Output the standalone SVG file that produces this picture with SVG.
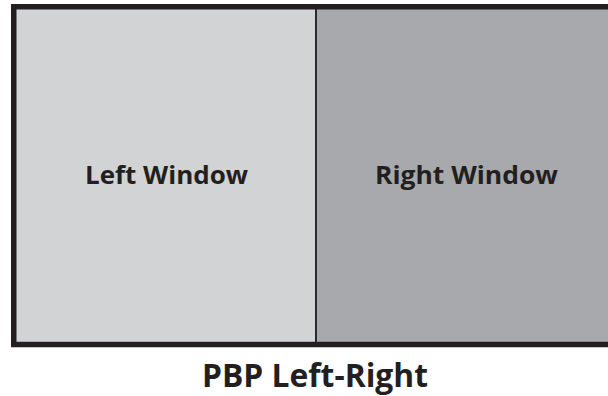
<svg xmlns="http://www.w3.org/2000/svg" width="608" height="396" viewBox="0 0 608 396">
<style>
.lbl{font-family:"Open Sans","Liberation Sans",sans-serif;font-weight:700;fill:#231f20;text-anchor:middle}
</style>
<rect width="608" height="396" fill="#ffffff"/>
<g id="left-window">
<rect x="14" y="7" width="302" height="337" fill="#d1d3d4"/>
<text class="lbl" x="166.5" y="184" font-size="24.5" textLength="163" lengthAdjust="spacingAndGlyphs">Left Window</text>
</g>
<g id="right-window">
<rect x="316" y="7" width="300" height="337" fill="#a7a9ac"/>
<text class="lbl" x="466.5" y="184" font-size="24.5" textLength="183" lengthAdjust="spacingAndGlyphs">Right Window</text>
</g>
<g id="connectors">
<line x1="316" y1="7" x2="316" y2="344" stroke="#2b2a2b" stroke-width="2"/>
</g>
<g id="frame">
<rect x="13.75" y="6.75" width="620" height="337.75" fill="none" stroke="#231f20" stroke-width="5.5"/>
</g>
<g id="caption">
<text class="lbl" x="315" y="387" font-size="31.5" textLength="226" lengthAdjust="spacingAndGlyphs">PBP Left-Right</text>
</g>
</svg>
